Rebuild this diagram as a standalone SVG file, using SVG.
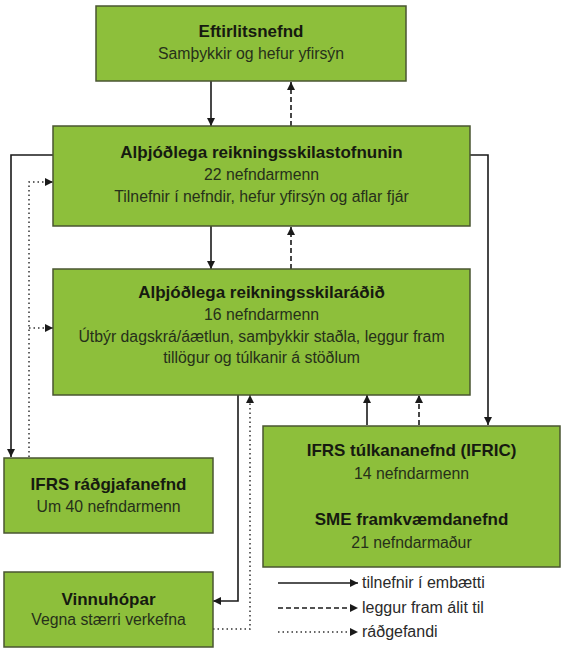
<svg xmlns="http://www.w3.org/2000/svg" width="567" height="651" viewBox="0 0 567 651">
<style>
.box{fill:#8dbf3b;stroke:#4a5632;stroke-width:1.5}
.t{font-family:"Liberation Sans",Arial,sans-serif;font-size:17px;font-weight:bold;fill:#161a10;text-anchor:middle}
.s{font-family:"Liberation Sans",Arial,sans-serif;font-size:15.8px;fill:#26301a;text-anchor:middle}
.lg{font-family:"Liberation Sans",Arial,sans-serif;font-size:16px;fill:#2a2a2a}
.solid{fill:none;stroke:#1a1a1a;stroke-width:1.6}
.dash{fill:none;stroke:#1a1a1a;stroke-width:1.6;stroke-dasharray:5 3}
.dot{fill:none;stroke:#333;stroke-width:1.5;stroke-dasharray:1.5 3}
</style>
<defs>
<marker id="ah" viewBox="0 0 10 10" refX="10" refY="5" markerWidth="8" markerHeight="8" markerUnits="userSpaceOnUse" orient="auto">
<path d="M0,0 L10,5 L0,10 z" fill="#1a1a1a"/>
</marker>
</defs>
<rect width="567" height="651" fill="#ffffff"/>
<g id="connectors">
<line class="solid" x1="211" y1="81" x2="211" y2="126" marker-end="url(#ah)"/>
<line class="dash" x1="291" y1="126" x2="291" y2="82" marker-end="url(#ah)"/>
<line class="solid" x1="211" y1="226" x2="211" y2="269" marker-end="url(#ah)"/>
<line class="dash" x1="291" y1="269" x2="291" y2="227" marker-end="url(#ah)"/>
<polyline class="solid" points="53,155 11,155 11,457" marker-end="url(#ah)"/>
<polyline class="solid" points="470,155 488,155 488,425" marker-end="url(#ah)"/>
<polyline class="dot" points="29,457 29,182 53,182" marker-end="url(#ah)"/>
<line class="dot" x1="29" y1="328" x2="53" y2="328" marker-end="url(#ah)"/>
<polyline class="solid" points="238,395 238,601 213,601" marker-end="url(#ah)"/>
<polyline class="dot" points="213,629 250,629 250,395" marker-end="url(#ah)"/>
<line class="solid" x1="367" y1="425" x2="367" y2="395" marker-end="url(#ah)"/>
<line class="dash" x1="419" y1="425" x2="419" y2="395" marker-end="url(#ah)"/>
</g>
<g id="eftirlitsnefnd">
<rect class="box" x="96" y="6" width="310" height="75"/>
<text class="t" x="251" y="37">Eftirlitsnefnd</text>
<text class="s" x="251" y="59">Samþykkir og hefur yfirsýn</text>
</g>
<g id="stofnunin">
<rect class="box" x="53" y="126" width="417" height="100"/>
<text class="t" x="261.5" y="158">Alþjóðlega reikningsskilastofnunin</text>
<text class="s" x="261.5" y="180">22 nefndarmenn</text>
<text class="s" x="261.5" y="202">Tilnefnir í nefndir, hefur yfirsýn og aflar fjár</text>
</g>
<g id="radid">
<rect class="box" x="53" y="269" width="417" height="126"/>
<text class="t" x="261.5" y="298">Alþjóðlega reikningsskilaráðið</text>
<text class="s" x="261.5" y="320">16 nefndarmenn</text>
<text class="s" x="261.5" y="342">Útbýr dagskrá/áætlun, samþykkir staðla, leggur fram</text>
<text class="s" x="261.5" y="363">tillögur og túlkanir á stöðlum</text>
</g>
<g id="radgjafanefnd">
<rect class="box" x="4" y="458" width="209" height="75"/>
<text class="t" x="108.5" y="490">IFRS ráðgjafanefnd</text>
<text class="s" x="108.5" y="512">Um 40 nefndarmenn</text>
</g>
<g id="ifric">
<rect class="box" x="263" y="426" width="297" height="141"/>
<text class="t" x="411.5" y="456">IFRS túlkananefnd (IFRIC)</text>
<text class="s" x="411.5" y="479">14 nefndarmenn</text>
<text class="t" x="411.5" y="525">SME framkvæmdanefnd</text>
<text class="s" x="411.5" y="548">21 nefndarmaður</text>
</g>
<g id="vinnuhopar">
<rect class="box" x="4" y="572" width="209" height="75"/>
<text class="t" x="108.5" y="605">Vinnuhópar</text>
<text class="s" x="108.5" y="625">Vegna stærri verkefna</text>
</g>
<g id="legend">
<line class="solid" x1="278" y1="583" x2="358" y2="583" marker-end="url(#ah)"/>
<text class="lg" x="362" y="588">tilnefnir í embætti</text>
<line class="dash" x1="278" y1="608" x2="358" y2="608" marker-end="url(#ah)"/>
<text class="lg" x="362" y="613">leggur fram álit til</text>
<line class="dot" x1="278" y1="632" x2="358" y2="632" marker-end="url(#ah)"/>
<text class="lg" x="362" y="637">ráðgefandi</text>
</g>
</svg>
